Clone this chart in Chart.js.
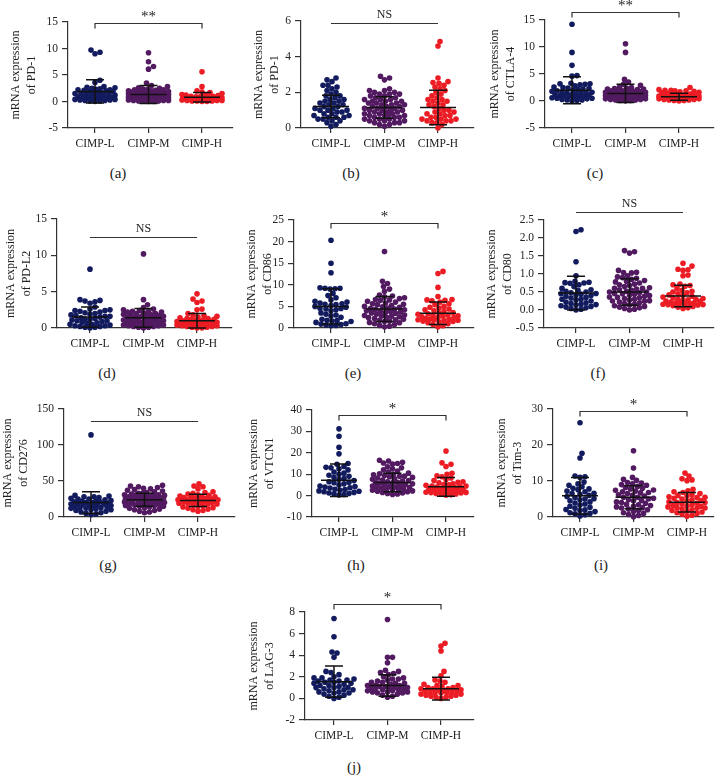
<!DOCTYPE html>
<html>
<head>
<meta charset="utf-8">
<script src="https://cdn.jsdelivr.net/npm/chart.js@4.4.1/dist/chart.umd.min.js"></script>
<style>
  body { margin: 0; background: #fff; }
  #fig { position: relative; width: 716px; height: 776px; overflow: hidden; font-family: "Liberation Serif", "Times New Roman", serif; }
  #fig canvas { position: absolute; }
  .tag { position: absolute; font-size: 15px; color: #222; transform: translate(-50%, -50%); white-space: nowrap; }
</style>
</head>
<body>
<div id="fig"></div>
<script>
// categories / labels
const groups = ['CIMP-L', 'CIMP-M', 'CIMP-H'];
const genes = ['PD-1', 'PD-1', 'CTLA-4', 'PD-L2', 'CD86', 'CD80', 'CD276', 'VTCN1', 'Tim-3', 'LAG-3'];
const tags = ['(a)', '(b)', '(c)', '(d)', '(e)', '(f)', '(g)', '(h)', '(i)', '(j)'];
const sig = ['**', 'NS', '**', 'NS', '*', 'NS', 'NS', '*', '*', '*'];

// y axis ticks
const yMin  = [-5, 0, -5, 0, 0, -0.5, 0, -10, 0, -2];
const yMax  = [15, 6, 15, 15, 25, 2.5, 150, 40, 30, 8];
const yStep = [5, 2, 5, 5, 5, 0.5, 50, 10, 10, 2];

// (a) PD-1
const aL = [9.7,9.3,9.0,4.0,3.6,2.8,2.7,2.6,2.5,2.4,2.3,2.2,2.1,2.0,1.9,1.9,1.8,1.7,1.6,1.5,1.4,1.3,1.2,1.2,1.1,1.0,1.0,0.9,0.8,0.8,0.7,0.7,0.6,0.5,0.5,0.4,0.4,0.3,0.3,0.2,0.2,0.1,0.1,0.0,1.5,2.2];
const aM = [9.2,7.5,6.6,6.1,3.5,3.0,2.8,2.6,2.5,2.4,2.3,2.2,2.1,2.0,2.0,1.9,1.8,1.8,1.7,1.6,1.6,1.5,1.5,1.4,1.4,1.3,1.3,1.2,1.2,1.1,1.1,1.0,1.0,0.9,0.9,0.8,0.8,0.7,0.7,0.7,0.6,0.6,0.5,0.5,0.5,0.4,0.4,0.4,0.3,0.3,0.3,0.2,0.2,0.2,0.1,0.1,0.1,0.0,0.0,2.2,1.9,1.7,1.2,0.8];
const aH = [5.6,2.8,2.0,1.8,1.7,1.5,1.3,1.2,1.1,1.0,1.0,0.9,0.9,0.8,0.8,0.7,0.7,0.7,0.6,0.6,0.6,0.5,0.5,0.5,0.4,0.4,0.4,0.3,0.3,0.3,0.2,0.2,0.2,0.1,0.1,0.1,0.0,0.0,0.6,0.5,0.4,1.2];
const aMean = [1.9, 1.3, 0.8], aSD = [2.2, 1.7, 0.9];

// (b) PD-1
const bL = [2.8,2.7,2.6,2.4,2.4,2.3,2.2,2.1,2.0,1.9,1.8,1.7,1.6,1.6,1.5,1.5,1.4,1.4,1.3,1.3,1.2,1.2,1.1,1.1,1.0,1.0,0.9,0.9,0.8,0.8,0.7,0.7,0.6,0.6,0.5,0.5,0.4,0.4,0.3,0.2,0.1,1.8,1.0,0.6];
const bM = [2.9,2.8,2.7,2.2,2.1,2.1,2.0,2.0,1.9,1.9,1.8,1.8,1.7,1.7,1.6,1.6,1.5,1.5,1.5,1.4,1.4,1.4,1.3,1.3,1.3,1.2,1.2,1.2,1.1,1.1,1.1,1.0,1.0,1.0,0.9,0.9,0.9,0.8,0.8,0.8,0.7,0.7,0.7,0.6,0.6,0.6,0.5,0.5,0.5,0.4,0.4,0.4,0.3,0.3,0.3,0.2,0.2,0.1,1.6,1.0,0.7,1.9];
const bH = [4.85,4.6,2.8,2.6,2.55,2.5,2.4,2.2,2.1,2.0,1.9,1.8,1.7,1.6,1.5,1.5,1.4,1.3,1.2,1.1,1.0,1.0,0.9,0.9,0.8,0.8,0.7,0.7,0.6,0.6,0.5,0.5,0.5,0.4,0.4,0.4,0.3,0.3,0.2,0.0,1.6,1.3,2.3];
const bMean = [1.2, 1.15, 1.15], bSD = [0.63, 0.6, 0.97];

// (c) CTLA-4
const cL = [14.2,9.0,6.6,4.7,4.6,3.3,3.2,3.2,3.1,3.0,2.6,2.5,2.4,2.3,2.2,2.1,2.0,1.9,1.8,1.7,1.6,1.5,1.4,1.3,1.2,1.1,1.0,1.0,0.9,0.9,0.8,0.7,0.6,0.5,0.5,0.4,0.3,0.2,0.2,0.1,0.0,1.2,2.8,1.5];
const cM = [10.6,9.0,4.0,3.5,3.1,2.9,2.6,2.5,2.4,2.3,2.2,2.1,2.0,2.0,1.9,1.8,1.8,1.7,1.6,1.6,1.5,1.5,1.4,1.4,1.3,1.3,1.2,1.2,1.1,1.1,1.0,1.0,0.9,0.9,0.8,0.8,0.7,0.7,0.6,0.6,0.5,0.5,0.4,0.4,0.3,0.3,0.2,0.2,0.1,0.1,0.0,1.7,1.2,0.9,2.2,0.5];
const cH = [2.5,2.1,2.0,2.0,1.9,1.9,1.8,1.7,1.6,1.5,1.4,1.3,1.2,1.2,1.1,1.1,1.0,1.0,0.9,0.9,0.8,0.8,0.8,0.7,0.7,0.7,0.6,0.6,0.6,0.5,0.5,0.5,0.4,0.4,0.3,0.3,0.2,0.2,0.1,0.1,0.0,1.0,0.6];
const cMean = [2.0, 1.4, 0.8], cSD = [2.5, 1.7, 0.65];

// (d) PD-L2
const dL = [8.1,3.9,3.8,3.7,3.6,3.4,2.9,2.6,2.5,2.4,2.4,2.3,2.2,2.1,2.0,1.9,1.8,1.7,1.6,1.5,1.4,1.3,1.2,1.1,1.0,1.0,0.9,0.8,0.7,0.6,0.5,0.5,0.4,0.3,0.3,0.2,0.2,0.1,0.1,0.0,1.6,1.2];
const dM = [10.2,3.9,3.2,2.8,2.6,2.5,2.4,2.3,2.2,2.2,2.1,2.0,2.0,1.9,1.8,1.8,1.7,1.6,1.6,1.5,1.5,1.4,1.4,1.3,1.3,1.2,1.2,1.1,1.1,1.0,1.0,0.9,0.9,0.8,0.8,0.7,0.7,0.6,0.6,0.5,0.5,0.4,0.4,0.3,0.3,0.2,0.2,0.1,0.1,0.0,1.7,1.0,2.3,0.6];
const dH = [4.7,4.0,3.7,3.5,2.6,2.5,2.0,1.8,1.7,1.6,1.5,1.4,1.3,1.2,1.2,1.1,1.1,1.0,1.0,0.9,0.9,0.8,0.8,0.7,0.7,0.7,0.6,0.6,0.5,0.5,0.5,0.4,0.4,0.4,0.3,0.3,0.2,0.2,0.1,0.1,0.0,0.0,1.3,0.8,0.6];
const dMean = [1.5, 1.4, 1.0], dSD = [1.4, 1.3, 1.0];

// (e) CD86
const eL = [20.3,15.0,12.8,9.3,9.2,9.2,9.1,9.0,8.0,7.5,6.5,6.2,6.0,5.8,5.6,5.4,5.2,5.0,4.8,4.6,4.4,4.2,4.0,3.5,3.0,2.8,2.5,2.0,1.8,1.6,1.5,1.3,1.0,0.9,0.8,0.7,0.6,0.5,5.5,4.5,1.7,7.0,3.2];
const eM = [17.7,10.8,10.3,9.6,9.0,8.5,7.6,7.4,7.2,7.0,6.8,6.6,6.4,6.2,6.0,5.8,5.6,5.4,5.2,5.0,4.9,4.8,4.6,4.5,4.4,4.3,4.2,4.0,3.9,3.8,3.6,3.5,3.4,3.2,3.0,2.9,2.8,2.6,2.5,2.4,2.2,2.0,1.9,1.8,1.6,1.5,1.3,1.2,1.0,0.8,0.6,0.4,0.3,5.5,3.7,2.7,6.5];
const eH = [13.1,12.6,9.4,7.3,6.6,6.5,6.4,6.3,6.0,5.6,5.4,5.0,4.8,4.6,4.4,4.2,4.0,3.8,3.6,3.4,3.2,3.0,2.9,2.8,2.6,2.5,2.4,2.2,2.1,2.0,1.9,1.8,1.7,1.6,1.5,1.4,1.2,1.0,0.8,0.5,0.3,3.3,2.7,1.9];
const eMean = [5.0, 4.4, 3.4], eSD = [4.1, 2.9, 2.6];

// (f) CD80
const fL = [2.23,2.18,1.34,0.95,0.8,0.77,0.76,0.75,0.74,0.7,0.65,0.6,0.56,0.55,0.52,0.5,0.48,0.46,0.44,0.42,0.4,0.38,0.35,0.33,0.3,0.28,0.25,0.22,0.2,0.18,0.16,0.14,0.12,0.1,0.08,0.06,0.04,0.02,0.0,0.45,0.3,0.15];
const fM = [1.65,1.62,1.58,1.1,1.05,1.04,1.03,0.95,0.92,0.9,0.88,0.85,0.82,0.8,0.78,0.75,0.72,0.7,0.68,0.65,0.62,0.6,0.58,0.56,0.55,0.52,0.5,0.48,0.46,0.44,0.42,0.4,0.38,0.36,0.34,0.32,0.3,0.28,0.26,0.24,0.22,0.2,0.18,0.16,0.14,0.12,0.1,0.08,0.06,0.04,0.02,0.0,0.5,0.35,0.25,0.6,0.45];
const fH = [1.3,1.22,1.13,1.12,1.1,0.97,0.95,0.72,0.7,0.68,0.66,0.6,0.55,0.52,0.5,0.48,0.45,0.42,0.4,0.38,0.36,0.34,0.32,0.3,0.28,0.26,0.24,0.22,0.2,0.19,0.18,0.17,0.16,0.15,0.14,0.12,0.1,0.08,0.06,0.04,0.3,0.2,0.15,0.25];
const fMean = [0.47, 0.5, 0.39], fSD = [0.47, 0.37, 0.3];

// (g) CD276
const gL = [114,30,29,28,28,27,26,25,24,23,22,22,21,20,20,19,18,18,17,16,16,15,14,14,13,12,12,11,10,10,9,8,7,6,5,4,3,21,17,25,13,19];
const gM = [44,43,42,41,40,39,38,37,36,35,34,33,33,32,31,31,30,30,29,29,28,28,27,27,26,26,25,25,24,24,23,23,22,22,21,21,20,20,19,19,18,18,17,17,16,16,15,15,14,13,12,11,10,9,8,7,6,25,28,22,30];
const gH = [46,43,42,39,35,34,33,32,31,30,29,28,28,27,26,26,25,25,24,24,23,23,22,22,21,21,20,20,19,19,18,18,17,16,15,14,13,12,11,10,9,8,24,22,27];
const gMean = [20, 24, 23], gSD = [15, 9, 8.5];

// (h) VTCN1
const hL = [31.2,27.7,22.6,19.5,15.0,14.6,13.6,13.2,13.0,12.5,12.0,11.0,10.0,9.5,9.0,8.5,8.0,7.5,7.0,6.5,6.0,5.5,5.0,4.5,4.0,3.7,3.5,3.0,2.5,2.2,2.0,1.8,1.5,1.2,1.0,0.8,0.5,0.3,4.2,2.8,6.2,10.5];
const hM = [16.5,16.2,15.6,15.2,15.0,14.8,13.5,13.0,12.5,12.0,11.5,11.0,10.5,10.2,10.0,9.7,9.4,9.1,8.8,8.5,8.2,7.9,7.6,7.3,7.0,6.8,6.5,6.2,6.0,5.8,5.5,5.2,5.0,4.8,4.5,4.2,4.0,3.8,3.5,3.2,3.0,2.8,2.5,2.2,2.0,1.8,1.5,1.2,1.0,0.8,0.5,6.0,4.0,3.0,9.0];
const hH = [20.8,15.3,14.6,13.6,10.4,10.0,9.2,8.8,8.2,7.5,7.0,6.5,6.2,6.0,5.5,5.2,5.0,4.8,4.5,4.2,4.0,3.8,3.5,3.2,3.0,2.8,2.6,2.4,2.2,2.0,1.8,1.6,1.4,1.2,1.0,0.8,0.6,0.4,0.2,3.0,2.2,1.5,4.5];
const hMean = [7.2, 6.1, 4.1], hSD = [7.6, 4.3, 4.4];

// (i) Tim-3
const iL = [26.2,17.7,16.4,11.4,11.2,11.0,9.7,9.2,8.8,8.4,8.0,7.6,7.2,7.0,6.6,6.3,6.0,5.7,5.4,5.1,4.8,4.5,4.2,3.9,3.6,3.3,3.0,2.7,2.4,2.1,1.8,1.5,1.2,0.9,0.6,0.3,6.5,5.0,2.0,7.8,1.0];
const iM = [18.4,13.6,11.0,10.5,10.2,9.6,9.4,9.2,9.0,8.8,8.5,8.2,8.0,7.8,7.5,7.2,7.0,6.8,6.5,6.2,6.0,5.8,5.5,5.2,5.0,4.8,4.5,4.2,4.0,3.8,3.5,3.2,3.0,2.8,2.5,2.2,2.0,1.8,1.5,1.2,1.0,0.7,0.4,0.1,5.5,4.6,6.7,3.4,2.6,7.4];
const iH = [12.2,11.4,10.6,10.3,10.1,7.7,7.3,7.0,6.8,6.5,6.2,6.0,5.8,5.6,5.4,5.2,5.0,4.8,4.6,4.4,4.2,4.0,3.8,3.6,3.4,3.2,3.0,2.8,2.6,2.4,2.2,2.0,1.8,1.6,1.4,1.2,1.0,0.8,0.5,0.2,4.0,3.0,2.5,5.5];
const iMean = [5.9, 5.5, 4.1], iSD = [5.1, 3.2, 2.7];

// (j) LAG-3
const jL = [7.4,5.7,4.3,4.2,3.8,2.5,2.4,2.0,1.9,1.9,1.8,1.7,1.6,1.6,1.5,1.5,1.4,1.3,1.2,1.2,1.1,1.0,1.0,0.9,0.8,0.8,0.7,0.6,0.6,0.5,0.4,0.3,0.2,0.1,0.0,1.4,1.0,0.5,2.2,1.7];
const jM = [7.3,3.8,3.8,3.3,2.6,2.5,2.4,2.3,2.2,2.0,1.9,1.8,1.8,1.7,1.6,1.5,1.4,1.4,1.3,1.2,1.2,1.1,1.1,1.0,1.0,0.9,0.9,0.8,0.8,0.7,0.7,0.6,0.6,0.5,0.5,0.4,0.3,0.2,0.1,1.2,1.0,0.8,1.5,0.6];
const jH = [5.1,4.85,4.4,2.5,2.1,1.7,1.6,1.5,1.3,1.2,1.2,1.1,1.0,1.0,0.9,0.9,0.8,0.8,0.7,0.7,0.6,0.6,0.5,0.5,0.4,0.4,0.3,0.3,0.2,0.2,0.1,0.1,0.0,0.9,0.7,0.5];
const jMean = [1.55, 1.2, 0.9], jSD = [1.45, 1.0, 1.05];

const panelValues = [[aL,aM,aH],[bL,bM,bH],[cL,cM,cH],[dL,dM,dH],[eL,eM,eH],[fL,fM,fH],[gL,gM,gH],[hL,hM,hH],[iL,iM,iH],[jL,jM,jH]];
const panelMean = [aMean,bMean,cMean,dMean,eMean,fMean,gMean,hMean,iMean,jMean];
const panelSD = [aSD,bSD,cSD,dSD,eSD,fSD,gSD,hSD,iSD,jSD];
// height of the significance bar, in axis units
const barLevel = [14.8, 5.89, 16.5, 12.5, 24.3, 2.72, 133, 37.7, 29.4, 8.74];

// page layout (pixels): y axis x, plot top/bottom, x axis right end, first category x, y-axis box width, tag centre
const layout = [
  {ax: 68,  top: 22,  bot: 128, right: 233, t0: 95,  yW: 61, tag: [118, 173]},
  {ax: 301, top: 21,  bot: 128, right: 474, t0: 331, yW: 51, tag: [351, 173]},
  {ax: 545, top: 20,  bot: 128, right: 714, t0: 572, yW: 59, tag: [595, 173]},
  {ax: 57,  top: 219, bot: 328, right: 232, t0: 90,  yW: 55, tag: [107, 373]},
  {ax: 294, top: 220, bot: 328, right: 474, t0: 331, yW: 51, tag: [353, 373]},
  {ax: 544, top: 220, bot: 328, right: 714, t0: 576, yW: 61, tag: [598, 373]},
  {ax: 64,  top: 409, bot: 517, right: 235, t0: 91,  yW: 65, tag: [108, 565]},
  {ax: 312, top: 410, bot: 517, right: 474, t0: 339, yW: 67, tag: [356, 565]},
  {ax: 553, top: 409, bot: 517, right: 714, t0: 580, yW: 60, tag: [601, 565]},
  {ax: 305, top: 612, bot: 720, right: 474, t0: 334, yW: 60, tag: [354, 767]}
];

const colors = ['#121b5e', '#521a60', '#ec1c24'];
const catGap = 53.5;
const FONT = 'Liberation Serif';

// spread points sideways so they don't overlap (x offset in px)
function swarm(vals, pxPerUnit) {
  const minD = 4.8, maxW = 20;
  const order = vals.map((v, i) => i).sort((p, q) => vals[p] - vals[q]);
  const placed = [];
  const out = [];
  for (const i of order) {
    const y = vals[i] * pxPerUnit;
    let best = 0, bestD = -1;
    for (let k = 0; k <= 2 * maxW; k++) {
      const dx = (k % 2 ? 1 : -1) * Math.ceil(k / 2);
      let d = Infinity;
      for (const p of placed) {
        const dd = Math.hypot(p.x - dx, p.y - y);
        if (dd < d) d = dd;
      }
      if (d >= minD) { best = dx; bestD = Infinity; break; }
      if (d > bestD) { bestD = d; best = dx; }
    }
    placed.push({x: best, y});
    out[i] = best;
  }
  return out;
}

const statsPlugin = {
  id: 'stats',
  afterDatasetsDraw(chart, args, opts) {
    const {ctx, scales: {x, y}} = chart;
    ctx.save();
    ctx.strokeStyle = '#111';
    ctx.lineWidth = 1.5;
    opts.mean.forEach((m, i) => {
      const cx = x.getPixelForValue(i);
      const ym = y.getPixelForValue(m);
      const yt = y.getPixelForValue(m + opts.sd[i]);
      const yb = y.getPixelForValue(m - opts.sd[i]);
      ctx.beginPath();
      ctx.moveTo(cx - 18, ym); ctx.lineTo(cx + 18, ym);
      ctx.moveTo(cx, yt); ctx.lineTo(cx, yb);
      ctx.moveTo(cx - 9, yt); ctx.lineTo(cx + 9, yt);
      ctx.moveTo(cx - 9, yb); ctx.lineTo(cx + 9, yb);
      ctx.stroke();
    });
    // significance bar
    const x0 = x.getPixelForValue(0), x2 = x.getPixelForValue(2);
    const by = Math.round(y.getPixelForValue(opts.bar)) + 0.5;
    const ns = opts.sig === 'NS';
    ctx.strokeStyle = '#333';
    ctx.lineWidth = 1.2;
    ctx.beginPath();
    if (ns) {
      ctx.moveTo(x0, by); ctx.lineTo(x2, by);
    } else {
      ctx.moveTo(x0, by + 5); ctx.lineTo(x0, by); ctx.lineTo(x2, by); ctx.lineTo(x2, by + 5);
    }
    ctx.stroke();
    ctx.fillStyle = '#222';
    ctx.textAlign = 'center';
    ctx.textBaseline = 'middle';
    ctx.font = (ns ? 12 : 15) + 'px "' + FONT + '"';
    ctx.fillText(opts.sig, (x0 + x2) / 2, by - (ns ? 9 : 6));
    ctx.restore();
  }
};

const fig = document.getElementById('fig');

layout.forEach((p, k) => {
  const padTop = 30, padRight = 8, xH = 30;
  const W = p.right - p.ax + p.yW + padRight;
  const H = padTop + (p.bot - p.top) + xH;
  const cv = document.createElement('canvas');
  cv.width = W; cv.height = H;
  cv.style.left = (p.ax - p.yW) + 'px';
  cv.style.top = (p.top - padTop) + 'px';
  cv.style.width = W + 'px';
  cv.style.height = H + 'px';
  fig.appendChild(cv);

  const xmin = -(p.t0 - p.ax) / catGap;
  const xmax = (p.right - p.t0) / catGap;
  const pxPerUnit = (p.bot - p.top) / (yMax[k] - yMin[k]);

  const datasets = panelValues[k].map((vals, g) => {
    const dx = swarm(vals, pxPerUnit);
    return {
      label: groups[g],
      data: vals.map((v, i) => ({x: g + dx[i] / catGap, y: v})),
      backgroundColor: colors[g],
      borderWidth: 0,
      pointRadius: 2.8,
      pointHoverRadius: 2.8,
      clip: false
    };
  });

  new Chart(cv, {
    type: 'scatter',
    data: {datasets},
    plugins: [statsPlugin],
    options: {
      responsive: false,
      animation: false,
      events: [],
      layout: {padding: {top: padTop, right: padRight, left: 0, bottom: 0}},
      plugins: {
        legend: {display: false},
        tooltip: {enabled: false},
        stats: {mean: panelMean[k], sd: panelSD[k], sig: sig[k], bar: barLevel[k]}
      },
      scales: {
        x: {
          type: 'linear',
          min: xmin,
          max: xmax,
          afterBuildTicks: s => { s.ticks = [0, 1, 2].map(v => ({value: v})); },
          afterFit: s => { s.height = xH; },
          border: {color: '#333', width: 1.2},
          grid: {drawOnChartArea: false, drawTicks: true, tickLength: 5, color: '#333', lineWidth: 1.2},
          ticks: {
            autoSkip: false, maxRotation: 0, padding: 4, color: '#222',
            font: {family: FONT, size: 11.5},
            callback: v => groups[v]
          }
        },
        y: {
          min: yMin[k],
          max: yMax[k],
          afterFit: s => { s.width = p.yW; },
          border: {color: '#333', width: 1.2},
          grid: {drawOnChartArea: false, drawTicks: true, tickLength: 6, color: '#333', lineWidth: 1.2},
          ticks: {
            stepSize: yStep[k], padding: 4, color: '#222',
            font: {family: FONT, size: 11.5},
            callback: v => (k === 5 ? v.toFixed(1) : v)
          },
          title: {
            display: true,
            text: ['mRNA expression', 'of ' + genes[k]],
            color: '#222',
            padding: 0,
            font: {family: FONT, size: 12, lineHeight: 1.4}
          }
        }
      }
    }
  });

  const t = document.createElement('div');
  t.className = 'tag';
  t.textContent = tags[k];
  t.style.left = p.tag[0] + 'px';
  t.style.top = p.tag[1] + 'px';
  fig.appendChild(t);
});
</script>
</body>
</html>
